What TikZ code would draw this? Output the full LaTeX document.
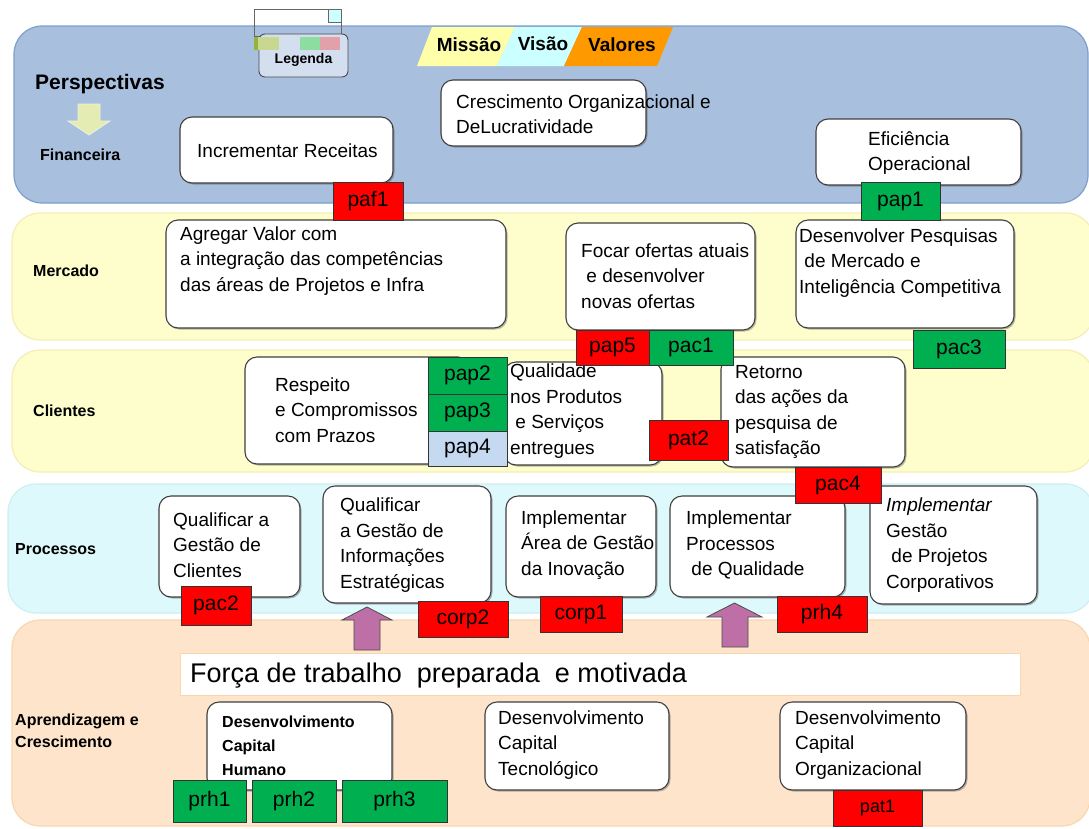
\documentclass[tikz,border=0pt]{standalone}
\usepackage{fontspec}
\setmainfont{Liberation Sans}
\usetikzlibrary{shadows}

\definecolor{finblue}{RGB}{168,191,222}
\definecolor{finedge}{RGB}{126,158,204}
\definecolor{mktyellow}{RGB}{254,253,204}
\definecolor{mktedge}{RGB}{244,238,180}
\definecolor{proccyan}{RGB}{222,249,251}
\definecolor{procedge}{RGB}{205,238,242}
\definecolor{lrnpeach}{RGB}{253,228,202}
\definecolor{lrnedge}{RGB}{248,214,176}
\definecolor{tagred}{RGB}{255,0,0}
\definecolor{taggreen}{RGB}{0,176,80}
\definecolor{tagblue}{RGB}{197,217,241}
\definecolor{liftpurple}{RGB}{190,112,166}
\definecolor{missao}{RGB}{255,255,170}
\definecolor{visao}{RGB}{204,255,255}
\definecolor{valores}{RGB}{255,153,0}
\definecolor{downarrow}{RGB}{228,236,180}
\definecolor{legendfill}{RGB}{211,222,238}

\tikzset{
  band/.style={rounded corners=28pt, line width=1.2pt},
  objbox/.style={draw=black!75, fill=white, rounded corners=12pt, line width=1.1pt,
    drop shadow={shadow xshift=1.5pt, shadow yshift=-1.5pt, opacity=0.4, fill=black!70}},
  tagbox/.style={draw=black!80, line width=0.8pt, font=\fontsize{21}{24}\selectfont},
  redtag/.style={tagbox, fill=tagred},
  greentag/.style={tagbox, fill=taggreen},
  bluetag/.style={tagbox, fill=tagblue},
  txt/.style={anchor=west, align=left, inner sep=0pt, font=\fontsize{19}{25.5}\selectfont},
  lane/.style={anchor=west, align=left, inner sep=0pt, font=\bfseries\fontsize{16}{22}\selectfont},
  mvv/.style={font=\bfseries\fontsize{19}{21}\selectfont},
  lift/.style={fill=liftpurple, draw=black!70, line width=0.8pt},
}

% name, x1, y1, x2, y2, style, text
\newcommand{\rectnode}[7]{%
  \node[#6, inner sep=0pt, outer sep=0pt, minimum width={#4-#2}, minimum height={#5-#3}]
    (#1) at ({(#2+#4)/2},{(#3+#5)/2}) {#7};}

\begin{document}
\begin{tikzpicture}[x=1pt, y=-1pt]
\useasboundingbox (0,0) rectangle (1089,828);
\clip (0,0) rectangle (1089,828);

% ---- perspective bands ----
\draw[band, fill=finblue, draw=finedge] (14,26) rectangle (1088,203);
\draw[band, fill=mktyellow, draw=mktedge] (12,213) rectangle (1094,340);
\draw[band, fill=mktyellow, draw=mktedge] (12,350) rectangle (1094,472);
\draw[band, fill=proccyan, draw=procedge] (8,484) rectangle (1094,613);
\draw[band, fill=lrnpeach, draw=lrnedge] (12,620) rectangle (1090,826);

% ---- legend ----
\draw[black!60, line width=0.8pt] (254,9) rectangle (341,36);
\draw[black!60, fill=visao, line width=0.6pt] (328,9) rectangle (341,22);
\node[draw=black!70, fill=legendfill, rounded corners=6pt, line width=0.9pt,
      minimum width=89pt, minimum height=43pt, inner sep=0pt,
      font=\bfseries\fontsize{14}{16}\selectfont, text depth=0pt]
  (legenda) at (303.5,55.5) {\raisebox{-5pt}{Legenda}};
\fill[fill={rgb,255:red,200;green,216;blue,144}] (254,37) rectangle (279,50);
\fill[fill={rgb,255:red,150;green,178;blue,60}] (254,37) rectangle (258,50);
\fill[fill={rgb,255:red,140;green,222;blue,160}] (300,37) rectangle (320,50);
\fill[fill={rgb,255:red,226;green,160;blue,168}] (320,37) rectangle (340,50);

% ---- mission / vision / values ----
\fill[missao] (432,27) -- (515,27) -- (497,66) -- (417,66) -- cycle;
\fill[visao] (515,27) -- (582,27) -- (564,66) -- (497,66) -- cycle;
\fill[valores] (582,27) -- (673,27) -- (657,66) -- (564,66) -- cycle;
\node[mvv] (missao) at (469,45) {Missão};
\node[mvv] (visao) at (543,44) {Visão};
\node[mvv] (valores) at (622,45) {Valores};

% ---- lane captions ----
\node[lane, font=\bfseries\fontsize{21}{24}\selectfont] (perspectivas) at (35,84) {Perspectivas};
\fill[downarrow, draw={rgb,255:red,240;green,244;blue,210}, line width=0.8pt]
  (78,104) -- (100,104) -- (100,121) -- (110,121) -- (89,135) -- (68,121) -- (78,121) -- cycle;
\node[lane] (financeira) at (40,155) {Financeira};
\node[lane] (mercado) at (33,271) {Mercado};
\node[lane] (clientes) at (33,411) {Clientes};
\node[lane] (processos) at (15,549) {Processos};
\node[lane] (aprendizagem) at (15,731) {Aprendizagem e\\Crescimento};

% ---- financial objectives ----
\rectnode{crescimento}{441}{80}{646}{146}{objbox}{}
\node[txt] (crescimento-t) at (456,114) {Crescimento Organizacional e\\DeLucratividade};
\rectnode{receitas}{180}{117}{393}{183}{objbox}{}
\node[txt] (receitas-t) at (197,151) {Incrementar Receitas};
\rectnode{eficiencia}{816}{119}{1021}{185}{objbox}{}
\node[txt] (eficiencia-t) at (868,153) {Eficiência\\Operacional};

% ---- market objectives ----
\rectnode{agregar}{166}{220}{506}{328}{objbox}{}
\node[txt] (agregar-t) at (180,261) {Agregar Valor com\\a integração das competências\\das áreas de Projetos e Infra};
\rectnode{focar}{566}{223}{755}{330}{objbox}{}
\node[txt] (focar-t) at (581,276) {Focar ofertas atuais\\\ e desenvolver\\novas ofertas};
\rectnode{pesquisas}{796}{220}{1014}{328}{objbox}{}
\node[txt] (pesquisas-t) at (799,263) {Desenvolver Pesquisas\\\ de Mercado e\\Inteligência Competitiva};

% ---- client objectives ----
\rectnode{respeito}{245}{357}{470}{464}{objbox}{}
\node[txt] (respeito-t) at (275,410) {Respeito\\e Compromissos\\com Prazos};
\rectnode{qualidade}{504}{362}{662}{465}{objbox}{}
\node[txt] (qualidade-t) at (510,411) {Qualidade\\nos Produtos\\\ e Serviços\\entregues};
\rectnode{retorno}{721}{357}{905}{467}{objbox}{}
\node[txt] (retorno-t) at (735,412) {Retorno\\das ações da\\pesquisa de\\satisfação};

% ---- process objectives ----
\rectnode{qclientes}{159}{496}{300}{597}{objbox}{}
\node[txt] (qclientes-t) at (173,545) {Qualificar a\\Gestão de\\Clientes};
\rectnode{qinfo}{323}{486}{491}{603}{objbox}{}
\node[txt] (qinfo-t) at (340,545) {Qualificar\\a Gestão de\\Informações\\Estratégicas};
\rectnode{inovacao}{506}{496}{656}{597}{objbox}{}
\node[txt] (inovacao-t) at (521,545) {Implementar\\Área de Gestão\\da Inovação};
\rectnode{pqualidade}{670}{496}{845}{597}{objbox}{}
\node[txt] (pqualidade-t) at (686,545) {Implementar\\Processos\\\ de Qualidade};
\rectnode{projetos}{870}{486}{1037}{604}{objbox}{}
\node[txt] (projetos-t) at (886,545) {\textit{Implementar}\\Gestão\\\ de Projetos\\Corporativos};

% ---- learning and growth ----
\rectnode{forca}{180}{653}{1020}{695}{draw=lrnedge, fill=white, line width=1pt}{}
\node[txt, font=\fontsize{27}{30}\selectfont] (forca-t) at (190,676) {Força de trabalho\ \ preparada\ \ e motivada};
\rectnode{humano}{207}{702}{392}{790}{objbox}{}
\node[txt, font=\bfseries\fontsize{16}{24}\selectfont] (humano-t) at (222,746) {Desenvolvimento\\Capital\\Humano};
\rectnode{tecnologico}{485}{702}{669}{790}{objbox}{}
\node[txt] (tecnologico-t) at (498,745) {Desenvolvimento\\Capital\\Tecnológico};
\rectnode{organizacional}{780}{702}{966}{790}{objbox}{}
\node[txt] (organizacional-t) at (795,745) {Desenvolvimento\\Capital\\Organizacional};

% ---- lift arrows from the workforce up to the processes ----
\draw[lift] (354,650) -- (354,620) -- (342,620) -- (367,607) -- (392,620) -- (380,620) -- (380,650) -- cycle;
\draw[lift] (722,647) -- (722,617) -- (707,617) -- (734.5,603) -- (762,617) -- (748,617) -- (748,647) -- cycle;

% ---- action codes ----
\rectnode{paf1}{333}{182}{403}{220}{redtag}{paf1}
\rectnode{pap1}{861}{182}{940}{220}{greentag}{pap1}
\rectnode{pap5}{576}{330}{649}{365}{redtag}{pap5}
\rectnode{pac1}{649}{330}{733}{365}{greentag}{pac1}
\rectnode{pac3}{913}{330}{1005}{368}{greentag}{pac3}
\rectnode{pap2}{428}{357}{507}{394}{greentag}{pap2}
\rectnode{pap3}{428}{394}{507}{431}{greentag}{pap3}
\rectnode{pap4}{428}{431}{507}{466}{bluetag}{pap4}
\rectnode{pat2}{649}{420}{728}{460}{redtag}{pat2}
\rectnode{pac4}{795}{467}{881}{503}{redtag}{pac4}
\rectnode{pac2}{181}{586}{251}{625}{redtag}{pac2}
\rectnode{corp2}{418}{601}{508}{637}{redtag}{corp2}
\rectnode{corp1}{540}{596}{622}{632}{redtag}{corp1}
\rectnode{prh4}{777}{596}{867}{632}{redtag}{prh4}
\rectnode{prh1}{173}{780}{246}{822}{greentag}{prh1}
\rectnode{prh2}{252}{780}{336}{822}{greentag}{prh2}
\rectnode{prh3}{342}{780}{447}{822}{greentag}{prh3}
\rectnode{pat1}{833}{790}{922}{826}{redtag, font=\fontsize{18}{20}\selectfont}{pat1}
\end{tikzpicture}
\end{document}
